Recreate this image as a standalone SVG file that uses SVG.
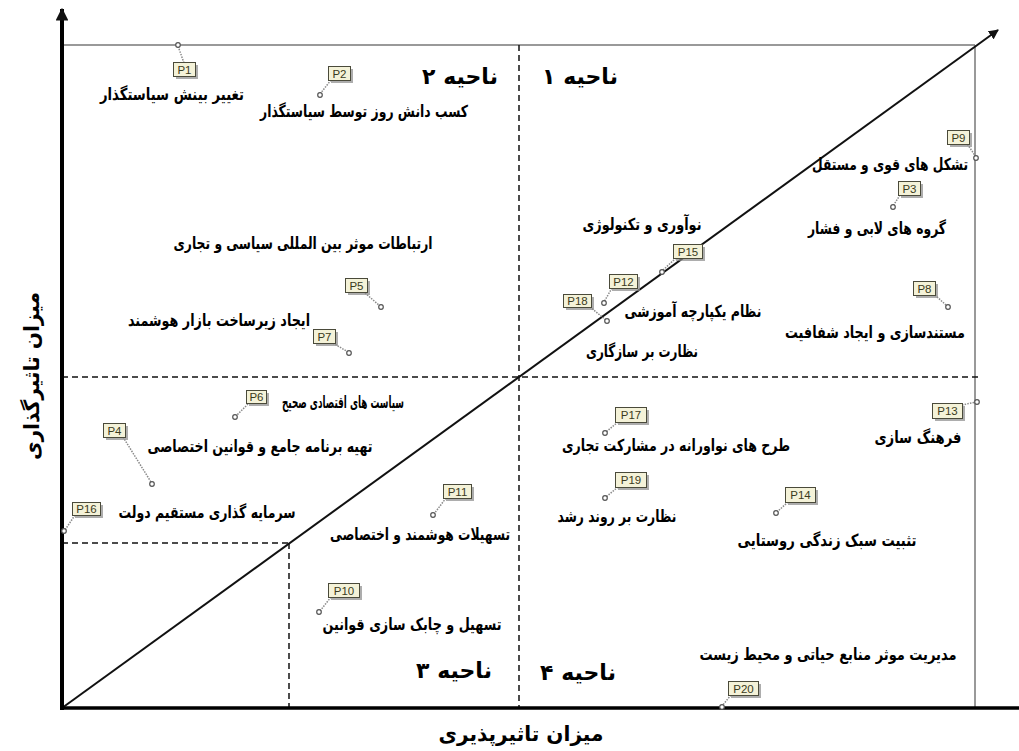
<svg xmlns="http://www.w3.org/2000/svg" width="1019" height="751" viewBox="0 0 1019 751">
<style>
.lbl{font-family:'DejaVu Sans',sans-serif;font-weight:bold;font-size:16.5px;fill:#000;text-anchor:middle}
.zone{font-family:'DejaVu Sans',sans-serif;font-weight:bold;font-size:22px;fill:#000;text-anchor:middle}
.axl{font-family:'DejaVu Sans',sans-serif;font-weight:bold;font-size:21px;fill:#000;text-anchor:middle}
.pbox{fill:#f4f2d8;stroke:#4a4a3a;stroke-width:1}
.pshadow{fill:#8a8a8a;opacity:0.7}
.ptxt{font-family:'Liberation Sans',Arial,sans-serif;font-size:11.5px;fill:#3a3a20;text-anchor:middle}
.lead{stroke:#8a8a8a;stroke-width:1.5;stroke-dasharray:1.5,1.2;fill:none}
.pin{fill:#fff;stroke:#555;stroke-width:1.2}
.dash{stroke:#111;stroke-width:1.5;stroke-dasharray:6,4;fill:none}
.frame{stroke:#777;stroke-width:1.5;fill:none}
</style>
<defs>
<marker id="ah" viewBox="0 0 10 10" refX="9" refY="5" markerWidth="5" markerHeight="5" orient="auto" markerUnits="strokeWidth">
<path d="M0,0 L10,5 L0,10 z" fill="#111"/>
</marker>
<marker id="ahy" viewBox="0 0 10 10" refX="9" refY="5" markerWidth="3.2" markerHeight="3.2" orient="auto" markerUnits="strokeWidth">
<path d="M0,0 L10,5 L0,10 z" fill="#111"/>
</marker>
</defs>
<rect width="1019" height="751" fill="#fff"/>
<g id="connectors">
<line class="frame" x1="62" y1="45" x2="975" y2="45"/>
<line class="frame" x1="975" y1="45" x2="975" y2="708"/>
<line class="dash" x1="519" y1="45" x2="519" y2="708"/>
<line class="dash" x1="62" y1="377" x2="978" y2="377"/>
<line class="dash" x1="62" y1="543" x2="289" y2="543"/>
<line class="dash" x1="289" y1="543" x2="289" y2="708"/>
<line x1="62" y1="708" x2="998" y2="30" stroke="#111" stroke-width="2" marker-end="url(#ah)"/>
<line x1="62" y1="710" x2="62" y2="9" stroke="#000" stroke-width="4" marker-end="url(#ahy)"/>
<line x1="60" y1="708" x2="1019" y2="708" stroke="#000" stroke-width="3.5"/>
</g>
<g id="axis-labels">
<text class="axl" x="521" y="741" textLength="165" lengthAdjust="spacingAndGlyphs">میزان تاثیرپذیری</text>
<text class="axl" transform="translate(39,376) rotate(-90)" x="0" y="0" textLength="168" lengthAdjust="spacingAndGlyphs">میزان تاثیرگذاری</text>
</g>
<g id="zones">
<text class="zone" x="460" y="84">ناحیه ۲</text>
<text class="zone" x="580" y="84">ناحیه ۱</text>
<text class="zone" x="454" y="678">ناحیه ۳</text>
<text class="zone" x="578" y="680">ناحیه ۴</text>
</g>
<g id="P1"><line class="lead" x1="184" y1="63" x2="178" y2="46"/><circle class="pin" cx="178" cy="45" r="2.3"/><rect class="pshadow" x="176" y="65" width="22" height="14"/><rect class="pbox" x="173.5" y="62.5" width="22" height="14"/><text class="ptxt" x="184.5" y="73.8">P1</text><text class="lbl" x="172" y="100" textLength="144" lengthAdjust="spacingAndGlyphs">تغییر بینش سیاستگذار</text></g>
<g id="P2"><line class="lead" x1="331" y1="80" x2="320" y2="94"/><circle class="pin" cx="320" cy="95" r="2.3"/><rect class="pshadow" x="331" y="69" width="22" height="14"/><rect class="pbox" x="328.5" y="66.5" width="22" height="14"/><text class="ptxt" x="339.5" y="77.8">P2</text><text class="lbl" x="364" y="117" textLength="208" lengthAdjust="spacingAndGlyphs">کسب دانش روز توسط سیاستگذار</text></g>
<g id="P9"><line class="lead" x1="966" y1="142" x2="976" y2="157"/><circle class="pin" cx="976" cy="158" r="2.3"/><rect class="pshadow" x="950" y="133" width="22" height="14"/><rect class="pbox" x="947.5" y="130.5" width="22" height="14"/><text class="ptxt" x="958.5" y="141.8">P9</text><text class="lbl" x="890" y="170" textLength="156" lengthAdjust="spacingAndGlyphs">تشکل های قوی و مستقل</text></g>
<g id="P3"><line class="lead" x1="900" y1="195" x2="893" y2="206"/><circle class="pin" cx="893" cy="207" r="2.3"/><rect class="pshadow" x="901" y="184" width="22" height="14"/><rect class="pbox" x="898.5" y="181.5" width="22" height="14"/><text class="ptxt" x="909.5" y="192.8">P3</text><text class="lbl" x="877" y="234" textLength="138" lengthAdjust="spacingAndGlyphs">گروه های لابی و فشار</text></g>
<g id="P15"><line class="lead" x1="676" y1="258" x2="662" y2="271"/><circle class="pin" cx="662" cy="272" r="2.3"/><rect class="pshadow" x="676" y="247" width="29" height="14"/><rect class="pbox" x="673.5" y="244.5" width="29" height="14"/><text class="ptxt" x="688" y="255.8">P15</text><text class="lbl" x="642" y="230" textLength="119" lengthAdjust="spacingAndGlyphs">نوآوری و تکنولوژی</text></g>
<g id="P12"><line class="lead" x1="612" y1="288" x2="604" y2="302"/><circle class="pin" cx="604" cy="303" r="2.3"/><rect class="pshadow" x="612" y="277" width="28" height="14"/><rect class="pbox" x="609.5" y="274.5" width="28" height="14"/><text class="ptxt" x="623.5" y="285.8">P12</text><text class="lbl" x="693" y="317" textLength="137" lengthAdjust="spacingAndGlyphs">نظام یکپارچه آموزشی</text></g>
<g id="P18"><line class="lead" x1="590" y1="307" x2="606" y2="320"/><circle class="pin" cx="607" cy="321" r="2.3"/><rect class="pshadow" x="566" y="297" width="28" height="13"/><rect class="pbox" x="563.5" y="294.5" width="28" height="13"/><text class="ptxt" x="577.5" y="305.3">P18</text><text class="lbl" x="642" y="357" textLength="112" lengthAdjust="spacingAndGlyphs">نظارت بر سازگاری</text></g>
<g id="P8"><line class="lead" x1="935" y1="295" x2="947" y2="306"/><circle class="pin" cx="948" cy="307" r="2.3"/><rect class="pshadow" x="916" y="284" width="22" height="14"/><rect class="pbox" x="913.5" y="281.5" width="22" height="14"/><text class="ptxt" x="924.5" y="292.8">P8</text><text class="lbl" x="875" y="338" textLength="180" lengthAdjust="spacingAndGlyphs">مستندسازی و ایجاد شفافیت</text></g>
<g id="P5"><line class="lead" x1="365" y1="293" x2="380" y2="306"/><circle class="pin" cx="381" cy="307" r="2.3"/><rect class="pshadow" x="348" y="281" width="22" height="14"/><rect class="pbox" x="345.5" y="278.5" width="22" height="14"/><text class="ptxt" x="356.5" y="289.8">P5</text><text class="lbl" x="303" y="249" textLength="259" lengthAdjust="spacingAndGlyphs">ارتباطات موثر بین المللی سیاسی و تجاری</text></g>
<g id="P7"><line class="lead" x1="333" y1="343" x2="348" y2="352"/><circle class="pin" cx="349" cy="353" r="2.3"/><rect class="pshadow" x="316" y="332" width="22" height="14"/><rect class="pbox" x="313.5" y="329.5" width="22" height="14"/><text class="ptxt" x="324.5" y="340.8">P7</text><text class="lbl" x="219" y="326" textLength="182" lengthAdjust="spacingAndGlyphs">ایجاد زیرساخت بازار هوشمند</text></g>
<g id="P6"><line class="lead" x1="248" y1="404" x2="236" y2="416"/><circle class="pin" cx="235" cy="417" r="2.3"/><rect class="pshadow" x="249" y="393" width="20" height="13"/><rect class="pbox" x="246.5" y="390.5" width="20" height="13"/><text class="ptxt" x="256.5" y="401.3">P6</text><text class="lbl" x="343" y="408" textLength="122" lengthAdjust="spacingAndGlyphs">سیاست های اقتصادی صحیح</text></g>
<g id="P4"><line class="lead" x1="123" y1="437" x2="151" y2="482"/><circle class="pin" cx="152" cy="484" r="2.3"/><rect class="pshadow" x="106" y="426" width="22" height="14"/><rect class="pbox" x="103.5" y="423.5" width="22" height="14"/><text class="ptxt" x="114.5" y="434.8">P4</text><text class="lbl" x="260" y="452" textLength="225" lengthAdjust="spacingAndGlyphs">تهیه برنامه جامع و قوانین اختصاصی</text></g>
<g id="P16"><line class="lead" x1="75" y1="515" x2="65" y2="530"/><circle class="pin" cx="64" cy="531" r="2.3"/><rect class="pshadow" x="75" y="505" width="28" height="13"/><rect class="pbox" x="72.5" y="502.5" width="28" height="13"/><text class="ptxt" x="86.5" y="513.3">P16</text><text class="lbl" x="207" y="518" textLength="177" lengthAdjust="spacingAndGlyphs">سرمایه گذاری مستقیم دولت</text></g>
<g id="P11"><line class="lead" x1="446" y1="498" x2="434" y2="514"/><circle class="pin" cx="433" cy="515" r="2.3"/><rect class="pshadow" x="446" y="487" width="28" height="14"/><rect class="pbox" x="443.5" y="484.5" width="28" height="14"/><text class="ptxt" x="457.5" y="495.8">P11</text><text class="lbl" x="420" y="540" textLength="180" lengthAdjust="spacingAndGlyphs">تسهیلات هوشمند و اختصاصی</text></g>
<g id="P10"><line class="lead" x1="331" y1="597" x2="320" y2="611"/><circle class="pin" cx="319" cy="612" r="2.3"/><rect class="pshadow" x="331" y="586" width="31" height="14"/><rect class="pbox" x="328.5" y="583.5" width="31" height="14"/><text class="ptxt" x="344" y="594.8">P10</text><text class="lbl" x="412" y="630" textLength="179" lengthAdjust="spacingAndGlyphs">تسهیل و چابک سازی قوانین</text></g>
<g id="P20"><line class="lead" x1="731" y1="695" x2="722" y2="706"/><circle class="pin" cx="722" cy="707" r="2.3"/><rect class="pshadow" x="731" y="684" width="30" height="14"/><rect class="pbox" x="728.5" y="681.5" width="30" height="14"/><text class="ptxt" x="743.5" y="692.8">P20</text><text class="lbl" x="828" y="660" textLength="257" lengthAdjust="spacingAndGlyphs">مدیریت موثر منابع حیاتی و محیط زیست</text></g>
<g id="P17"><line class="lead" x1="618" y1="422" x2="606" y2="432"/><circle class="pin" cx="605" cy="433" r="2.3"/><rect class="pshadow" x="618" y="410" width="31" height="15"/><rect class="pbox" x="615.5" y="407.5" width="31" height="15"/><text class="ptxt" x="631" y="419.3">P17</text><text class="lbl" x="676" y="451" textLength="228" lengthAdjust="spacingAndGlyphs">طرح های نواورانه در مشارکت تجاری</text></g>
<g id="P19"><line class="lead" x1="618" y1="487" x2="606" y2="497"/><circle class="pin" cx="605" cy="498" r="2.3"/><rect class="pshadow" x="618" y="475" width="31" height="15"/><rect class="pbox" x="615.5" y="472.5" width="31" height="15"/><text class="ptxt" x="631" y="484.3">P19</text><text class="lbl" x="617" y="522" textLength="119" lengthAdjust="spacingAndGlyphs">نظارت بر روند رشد</text></g>
<g id="P14"><line class="lead" x1="788" y1="502" x2="777" y2="512"/><circle class="pin" cx="776" cy="513" r="2.3"/><rect class="pshadow" x="788" y="490" width="30" height="15"/><rect class="pbox" x="785.5" y="487.5" width="30" height="15"/><text class="ptxt" x="800.5" y="499.3">P14</text><text class="lbl" x="827" y="546" textLength="179" lengthAdjust="spacingAndGlyphs">تثبیت سبک زندگی روستایی</text></g>
<g id="P13"><line class="lead" x1="962" y1="405" x2="976" y2="402"/><circle class="pin" cx="977" cy="402" r="2.3"/><rect class="pshadow" x="935" y="406" width="30" height="15"/><rect class="pbox" x="932.5" y="403.5" width="30" height="15"/><text class="ptxt" x="947.5" y="415.3">P13</text><text class="lbl" x="918" y="443" textLength="87" lengthAdjust="spacingAndGlyphs">فرهنگ سازی</text></g>
</svg>
